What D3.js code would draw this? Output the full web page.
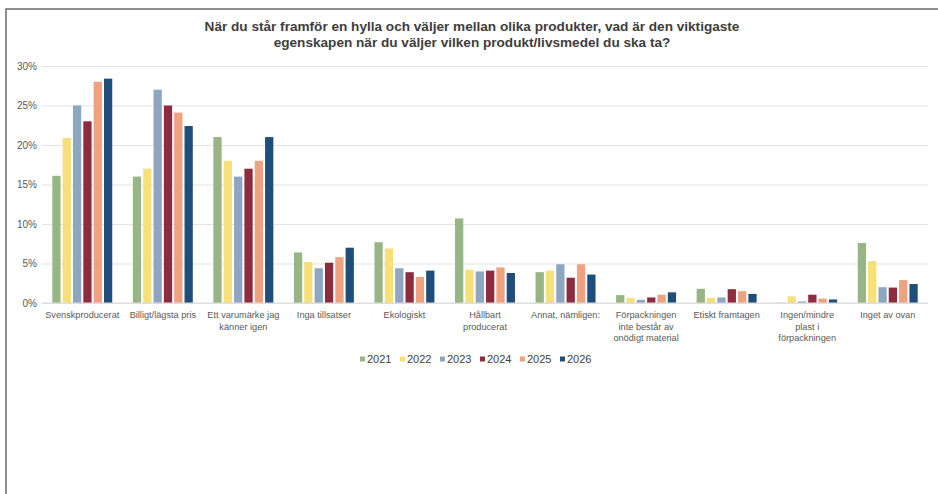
<!DOCTYPE html>
<html>
<head>
<meta charset="utf-8">
<script src="https://cdn.jsdelivr.net/npm/d3@7"></script>
<style>
  html, body { margin: 0; padding: 0; background: #fff; }
  svg { display: block; font-family: "Liberation Sans", Arial, sans-serif; }
</style>
</head>
<body>
<svg id="chart" width="938" height="494"></svg>
<script>
// Survey answers per year, share of respondents (%)
const categories = [
  "Svenskproducerat",
  "Billigt/lägsta pris",
  "Ett varumärke jag känner igen",
  "Inga tillsatser",
  "Ekologiskt",
  "Hållbart producerat",
  "Annat, nämligen:",
  "Förpackningen inte består av onödigt material",
  "Etiskt framtagen",
  "Ingen/mindre plast i förpackningen",
  "Inget av ovan"
];
const years = ["2021", "2022", "2023", "2024", "2025", "2026"];
const values2021 = [16.1, 16.0, 21.0, 6.4, 7.7, 10.7, 3.9, 1.0, 1.8, 0.05, 7.6];
const values2022 = [20.9, 17.0, 18.0, 5.2, 6.9, 4.2, 4.1, 0.65, 0.65, 0.85, 5.3];
const values2023 = [25.0, 27.0, 16.0, 4.4, 4.4, 4.0, 4.9, 0.4, 0.7, 0.2, 2.0];
const values2024 = [23.0, 25.0, 17.0, 5.1, 3.9, 4.1, 3.2, 0.7, 1.75, 1.05, 1.95];
const values2025 = [28.0, 24.1, 18.0, 5.8, 3.3, 4.5, 4.9, 1.05, 1.5, 0.55, 2.9];
const values2026 = [28.4, 22.4, 21.0, 7.0, 4.1, 3.8, 3.6, 1.35, 1.15, 0.45, 2.4];
const yTicks = [0, 5, 10, 15, 20, 25, 30];
const titleLines = [
  "När du står framför en hylla och väljer mellan olika produkter, vad är den viktigaste",
  "egenskapen när du väljer vilken produkt/livsmedel du ska ta?"
];

const series = [values2021, values2022, values2023, values2024, values2025, values2026];
const colors = ["#98b585", "#f7df7a", "#8ea6c2", "#8d2b3f", "#eea27f", "#1f4e7a"];

const svg = d3.select("#chart");
const W = 938, H = 494;
const plot = { left: 42, right: 928, top: 66, bottom: 303 };
const frameCenter = 472;

svg.append("rect").attr("width", W).attr("height", H).attr("fill", "#fff");

// outer frame (only top and left edges fall inside the view)
svg.append("rect")
  .attr("x", 6).attr("y", 9)
  .attr("width", W + 10).attr("height", H + 10)
  .attr("fill", "none").attr("stroke", "#6a6a6a").attr("stroke-width", 1.5);

// title
svg.append("g").selectAll("text").data(titleLines).join("text")
  .attr("x", frameCenter)
  .attr("y", (d, i) => 31 + i * 16)
  .attr("text-anchor", "middle")
  .attr("font-size", 13.6)
  .attr("font-weight", "bold")
  .attr("fill", "#3d3d3d")
  .text(d => d);

const y = d3.scaleLinear().domain([0, 30]).range([plot.bottom, plot.top]);
const x0 = d3.scaleBand().domain(categories).range([plot.left, plot.right])
  .paddingInner(0.23).paddingOuter(0.115);
const x1 = d3.scaleBand().domain(years).range([0, x0.bandwidth()])
  .paddingInner(0.2).paddingOuter(0.1);
const color = d3.scaleOrdinal().domain(years).range(colors);

// y axis with gridlines
const yAxis = svg.append("g")
  .attr("transform", `translate(${plot.left},0)`)
  .call(d3.axisLeft(y).tickValues(yTicks)
    .tickSize(-(plot.right - plot.left)).tickPadding(5)
    .tickFormat(d => d + "%"));
yAxis.select(".domain").remove();
yAxis.selectAll(".tick line").attr("stroke", "#e4e4e4").attr("stroke-width", 1.2);
yAxis.selectAll(".tick text")
  .attr("font-size", 10).attr("fill", "#595959")
  .attr("font-family", "'Liberation Sans', Arial, sans-serif");

// bars
const rows = categories.map((c, i) => ({
  category: c,
  entries: years.map((yr, j) => ({ year: yr, value: series[j][i] }))
}));

svg.append("g").selectAll("g").data(rows).join("g")
  .attr("transform", d => `translate(${x0(d.category)},0)`)
  .selectAll("rect").data(d => d.entries).join("rect")
  .attr("x", d => x1(d.year))
  .attr("width", x1.bandwidth())
  .attr("y", d => y(d.value))
  .attr("height", d => y(0) - y(d.value))
  .attr("fill", d => color(d.year));

// baseline
svg.append("line")
  .attr("x1", plot.left).attr("x2", plot.right)
  .attr("y1", y(0)).attr("y2", y(0))
  .attr("stroke", "#d9d9d9").attr("stroke-width", 1.2);

// category labels, wrapped to the band width
const xAxis = svg.append("g")
  .attr("transform", `translate(0,${plot.bottom})`)
  .call(d3.axisBottom(x0).tickSize(0).tickPadding(0));
xAxis.select(".domain").remove();
xAxis.selectAll(".tick text")
  .attr("font-size", 9.2).attr("fill", "#595959")
  .attr("font-family", "'Liberation Sans', Arial, sans-serif")
  .call(wrap, 75);

function wrap(texts, width) {
  texts.each(function () {
    const text = d3.select(this);
    const words = text.text().split(/\s+/);
    text.text(null);
    let line = [];
    let lineNo = 0;
    let tspan = text.append("tspan").attr("x", 0).attr("y", 15);
    for (const w of words) {
      line.push(w);
      tspan.text(line.join(" "));
      if (tspan.node().getComputedTextLength() > width && line.length > 1) {
        line.pop();
        tspan.text(line.join(" "));
        line = [w];
        lineNo++;
        tspan = text.append("tspan").attr("x", 0).attr("y", 15 + lineNo * 11.6).text(w);
      }
    }
    text.attr("dy", null);
  });
}

// legend
const legendItemW = 40, legendY = 359;
const legendX = 476 - (years.length * legendItemW - 8) / 2;
const legend = svg.append("g").selectAll("g").data(years).join("g")
  .attr("transform", (d, i) => `translate(${legendX + i * legendItemW},${legendY})`);
legend.append("rect")
  .attr("x", 0).attr("y", -2.5).attr("width", 5).attr("height", 5)
  .attr("fill", d => color(d));
legend.append("text")
  .attr("x", 7).attr("y", 4)
  .attr("font-size", 11).attr("fill", "#404040")
  .text(d => d);
</script>
</body>
</html>
